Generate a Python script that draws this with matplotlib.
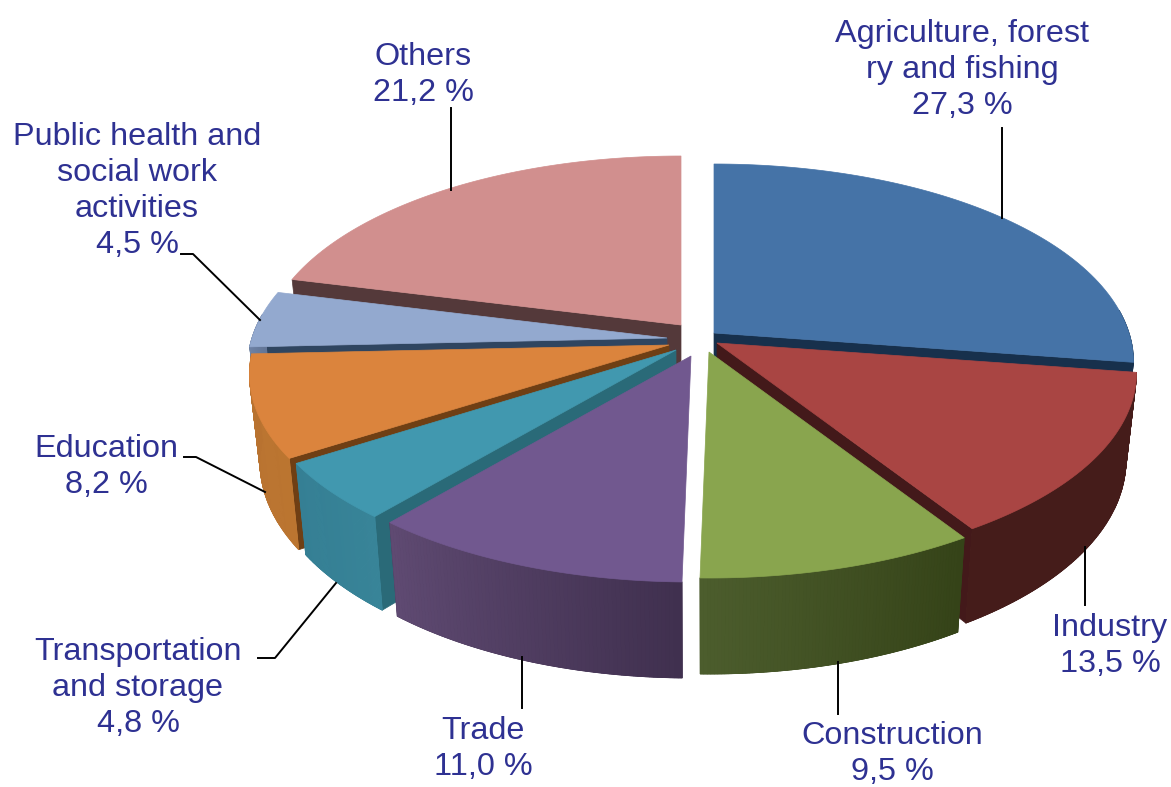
import numpy as np
from matplotlib import pyplot as plt
from matplotlib.colors import to_rgb

# data
labels = ["Agriculture, forest\nry and fishing\n27,3 %", "Industry\n13,5 %", "Construction\n9,5 %",
          "Trade\n11,0 %", "Transportation\nand storage\n4,8 %", "Education\n8,2 %",
          "Public health and\nsocial work\nactivities\n4,5 %", "Others\n21,2 %"]
values = [27.3, 13.5, 9.5, 11.0, 4.8, 8.2, 4.5, 21.2]

# styles
top_colors = ["#4573a7", "#a94543", "#89a54e", "#71588f", "#4198af", "#db843d", "#93a9cf", "#d18f8e"]
side_light = ["#17304c", "#451c1a", "#4c5d2d", "#5f4a72", "#398599", "#bc7631", "#6f83a6", "#7a4a48"]
side_dark = ["#17304c", "#451c1a", "#354318", "#40304f", "#357f94", "#b87230", "#5a6c8c", "#5e3a38"]
wall_colors = ["#17304c", "#43191a", "#3f5222", "#3f3054", "#2a6a78", "#6f3f14", "#2f4560", "#54393a"]
# how far each slice is pulled out of the centre, in pixels
pull_x = [21, 24, 16, -2, -17, -24, -26, -12]
pull_y = [-7, 3, 12, 16, 10, 5, -2, -15]
draw_order = [7, 0, 6, 5, 1, 4, 2, 3]

CX, CY = 693, 340
RX = 415
DEPTH = 86
FLOOR = 0.975


def project(theta, r, i, low=False):
    th = np.radians(theta)
    c, s = np.cos(th), np.sin(th)
    # perspective, front of the pie is wider and taller
    x = r * RX * s * (1 - 0.15 * c)
    y = -r * (200 - np.where(c < 0, 26, 31) * c) * c
    if low:
        x = x * FLOOR
        y = y + DEPTH - 10 * np.minimum(c, 0)
    return CX + pull_x[i] + x, CY + pull_y[i] + y


fig = plt.figure(figsize=(11.71, 7.87), dpi=100)
ax = fig.add_axes([0, 0, 1, 1])
ax.set_xlim(0, 1171)
ax.set_ylim(787, 0)
ax.axis("off")

edges = np.concatenate([[0], np.cumsum(values)]) / sum(values) * 360

for i in draw_order:
    a, b = edges[i], edges[i + 1]
    ts = np.linspace(a, b, 80)

    # radial walls, only the ones that face us
    for t, show in ((a, a > 185), (b, b < 175)):
        if not show:
            continue
        xo, yo = project(t, 1, i)
        xl, yl = project(t, 1, i, low=True)
        xa, ya = project(t, 0, i)
        ax.fill([xa, xo, xl, xa], [ya, yo, yl, ya + DEPTH], color=wall_colors[i], lw=0.5)

    # outer side with a shade running across it
    light, dark = np.array(to_rgb(side_light[i])), np.array(to_rgb(side_dark[i]))
    xt, yt = project(ts, 1, i)
    xb, yb = project(ts, 1, i, low=True)
    keep = np.cos(np.radians(ts)) <= 0.12
    # underlay so the strips leave no white seams
    ax.fill(np.r_[xt[keep], xb[keep][::-1]], np.r_[yt[keep], yb[keep][::-1]], color=side_dark[i], lw=0.5)
    for j in range(len(ts) - 1):
        if not keep[j]:
            continue
        f = j / (len(ts) - 2)
        col = light + (dark - light) * f if i not in (1, 2, 3) else light + (dark - light) * (1 - f)
        ax.fill([xt[j], xt[j + 1], xb[j + 1], xb[j]], [yt[j], yt[j + 1], yb[j + 1], yb[j]],
                color=col, lw=0.6)

    # top
    xa, ya = project(a, 0, i)
    ax.fill(np.r_[xa, xt], np.r_[ya, yt], color=top_colors[i], lw=0.5)

# leader lines
leaders = [[(1002, 128), (1002, 218)], [(1085, 547), (1085, 605)], [(838, 662), (838, 714)],
           [(522, 657), (522, 708)], [(258, 658), (275, 658), (336, 583)],
           [(184, 457), (196, 457), (265, 492)], [(181, 254), (193, 254), (260, 320)],
           [(451, 108), (451, 190)]]
for line in leaders:
    pts = np.array(line)
    ax.plot(pts[:, 0], pts[:, 1], color="black", lw=1.4)

# text
label_pos = [(962, 70), (1110, 646), (892, 754), (483, 749), (138, 688), (106, 467), (137, 191), (423, 75)]
for lab, (x, y) in zip(labels, label_pos):
    ax.text(x, y, lab, ha="center", va="center", family="Liberation Sans", fontsize=23.3,
            color="#2e3192", linespacing=1.26)

fig.savefig("out.png", dpi=100, facecolor="white")
